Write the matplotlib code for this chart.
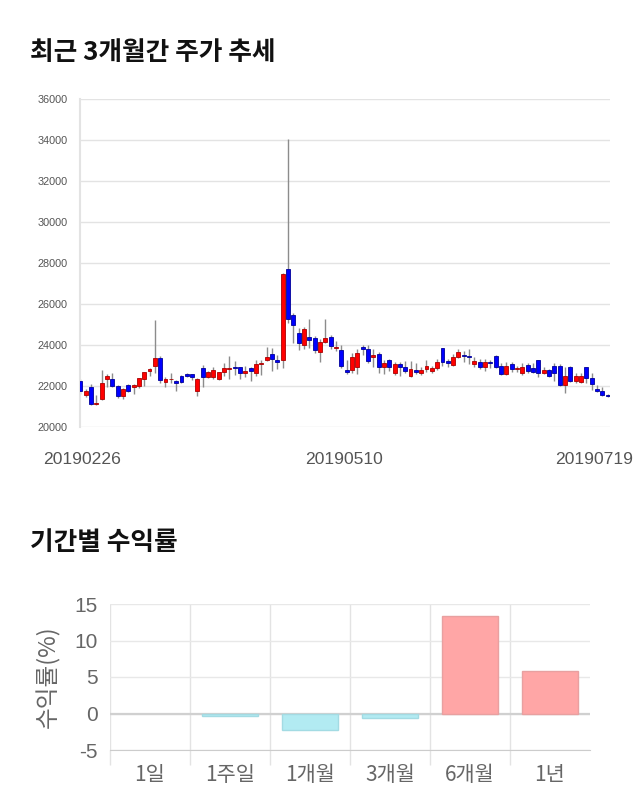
import matplotlib
matplotlib.use("Agg")
import matplotlib.pyplot as plt
import matplotlib.transforms as mtransforms
import numpy as np

plt.rcParams['font.family'] = ['Noto Sans CJK KR', 'DejaVu Sans']

# ---------------- data ----------------
opens = [22250, 21550, 21950, 21100, 21350, 22350, 22340, 22000, 21500, 22060,
         21930, 22010, 22330, 22750, 22960, 23350, 22200, 22330, 22240, 22470,
         22600, 22580, 21760, 22860, 22450, 22450, 22350, 22700, 22840, 22910,
         22930, 22650, 22860, 22650, 23060, 23270, 23560, 23270, 23270, 27710,
         25460, 24600, 24000, 24400, 24350, 23670, 24160, 24370, 23860, 23760,
         22780, 22780, 22940, 23900, 23790, 23400, 23580, 22910, 23270, 22650,
         23070, 22910, 22500, 22780, 22620, 22810, 22750, 22860, 23840, 23200,
         23010, 23430, 23500, 23470, 23090, 23170, 22940, 23170, 23460, 22980,
         22570, 23070, 22810, 22650, 23020, 22860, 23270, 22650, 22780, 22980,
         22980, 22050, 22910, 22240, 22200, 22910, 22370, 21850, 21770, 21560]
highs = [22350, 21870, 22100, 21550, 22780, 22600, 22630, 22050, 21900, 22100,
         22100, 22400, 22700, 22900, 25220, 23450, 22450, 22650, 22300, 22550,
         22650, 22600, 22400, 23020, 22750, 22950, 22700, 23100, 23460, 23230,
         22950, 23000, 22950, 23250, 23250, 23920, 23830, 23500, 27500, 34050,
         25560, 24850, 24880, 25250, 24450, 24300, 25270, 24500, 24200, 24000,
         23270, 23620, 23800, 24000, 24000, 23800, 23650, 23250, 23330, 23150,
         23150, 23200, 23200, 23100, 22950, 23250, 23000, 23300, 23840, 23300,
         23550, 23820, 23700, 23800, 23400, 23300, 23300, 23250, 23500, 23100,
         23150, 23150, 23000, 23100, 23100, 23100, 23270, 22950, 22850, 23100,
         23050, 22940, 22980, 22640, 22640, 22910, 22640, 22050, 21970, 21600]
lows = [21600, 21460, 21050, 21050, 21300, 21950, 21950, 21400, 21350, 21700,
        21610, 21900, 21990, 22500, 22630, 22150, 21950, 22150, 21750, 22150,
        22450, 22300, 21500, 21970, 22400, 22350, 22300, 22490, 22360, 22520,
        22330, 22450, 22250, 22500, 22550, 23200, 22750, 22850, 22900, 25070,
        24110, 23760, 23800, 23850, 23600, 23190, 24100, 23800, 23700, 22870,
        22600, 22620, 22590, 23500, 23100, 22950, 22650, 22600, 22750, 22550,
        22500, 22650, 22450, 22600, 22550, 22700, 22650, 22800, 22980, 22950,
        22980, 23380, 23150, 23050, 22950, 22850, 22750, 22900, 22900, 22530,
        22530, 22700, 22700, 22550, 22650, 22650, 22450, 22600, 22450, 22260,
        22000, 21640, 22200, 22150, 22150, 22150, 21800, 21700, 21500, 21450]
closes = [21750, 21750, 21100, 21150, 22130, 22480, 22020, 21520, 21870, 21760,
          22060, 22370, 22660, 22830, 23350, 22310, 22350, 22360, 22160, 22200,
          22500, 22420, 22320, 22450, 22700, 22760, 22670, 22860, 22890, 22880,
          22650, 22730, 22750, 23070, 23120, 23410, 23300, 23190, 27460, 25270,
          24960, 24080, 24800, 24240, 23760, 24160, 24350, 23970, 23910, 22980,
          22690, 23430, 23620, 23800, 23230, 23510, 22910, 23140, 22910, 23070,
          22910, 22750, 22840, 22670, 22790, 22960, 22880, 23160, 23170, 23140,
          23400, 23660, 23440, 23400, 23220, 22940, 23170, 23100, 22940, 22570,
          22980, 22810, 22890, 22930, 22750, 22700, 22650, 22780, 22490, 22650,
          22050, 22490, 22260, 22490, 22490, 22370, 22100, 21740, 21560, 21500]

date_tick_labels = ['20190226', '20190510', '20190719']
date_tick_index = [0, 50, 99]
price_ticks = [20000, 22000, 24000, 26000, 28000, 30000, 32000, 34000, 36000]

period_labels = ['1일', '1주일', '1개월', '3개월', '6개월', '1년']
period_returns = [0.0, -0.3, -2.2, -0.6, 13.4, 5.8]
return_ticks = [-5, 0, 5, 10, 15]

# ---------------- figure ----------------
fig = plt.figure(figsize=(6.4, 8.1), dpi=100)
fig.patch.set_facecolor('white')

fig.text(30 / 640, 1 - 52 / 810, '최근 3개월간 주가 추세', fontsize=18.5, fontweight='bold',
         color='#111111', ha='left', va='center')
fig.text(30 / 640, 1 - 543 / 810, '기간별 수익률', fontsize=18.5, fontweight='bold',
         color='#111111', ha='left', va='center')

# ---------------- candlestick chart ----------------
ax1 = fig.add_axes([80 / 640, 1 - 427 / 810, 530 / 640, 328 / 810])
o = np.array(opens, float)
h = np.array(highs, float)
l = np.array(lows, float)
c = np.array(closes, float)
x = np.arange(len(o))
up = c >= o
face = np.where(up, '#ff0000', '#0000ff')
edge = np.where(up, '#aa0000', '#000099')

ax1.vlines(x, l, h, color='#8c8c8c', linewidth=1.0, zorder=2)
ax1.bar(x, np.abs(c - o), bottom=np.minimum(o, c), width=0.74, color=face,
        edgecolor=edge, linewidth=0.6, zorder=3)

ax1.set_xlim(-0.05, 99.45)
ax1.set_ylim(20000, 36000)
ax1.set_yticks(price_ticks)
ax1.set_yticklabels([str(t) for t in price_ticks])
ax1.tick_params(axis='y', length=0, pad=9, labelsize=7.8, labelcolor='#555555')
ax1.set_xticks(date_tick_index)
ax1.set_xticklabels(date_tick_labels)
ax1.tick_params(axis='x', length=0, pad=18, labelsize=12.6, labelcolor='#555555')
for lab in ax1.get_yticklabels():
    lab.set_fontfamily(['Liberation Sans', 'DejaVu Sans'])
for lab in ax1.get_xticklabels():
    lab.set_fontfamily(['Liberation Sans', 'DejaVu Sans'])
shifts = [2, -3, -13]
for lab, s in zip(ax1.get_xticklabels(), shifts):
    lab.set_transform(lab.get_transform() + mtransforms.ScaledTranslation(s / 100, 0, fig.dpi_scale_trans))
ax1.grid(axis='y', color='#e3e3e3', linewidth=1.0)
ax1.set_axisbelow(True)
for s in ['top', 'right', 'bottom']:
    ax1.spines[s].set_visible(False)
ax1.spines['left'].set_color('#e3e3e3')
ax1.spines['left'].set_linewidth(1.5)

# ---------------- returns bar chart ----------------
ax2 = fig.add_axes([110 / 640, 1 - 750 / 810, 480 / 640, 146 / 810])
xp = np.arange(len(period_labels))
vals = np.array(period_returns)
bar_face = np.where(vals >= 0, '#ffa6a6', '#b2ebf2')
bar_edge = np.where(vals >= 0, '#e8a0a0', '#a3dbe3')
bar_lw = np.where(vals == 0, 0.0, 1.0)
ax2.bar(xp, vals, width=0.7, color=bar_face, edgecolor=bar_edge, linewidth=bar_lw, zorder=3)
ax2.set_xlim(-0.5, len(period_labels) - 0.5)
ax2.set_ylim(-5, 15)
ax2.set_yticks(return_ticks)
ax2.set_yticklabels([str(t) for t in return_ticks])
ax2.set_xticks(xp)
ax2.set_xticklabels(period_labels)
ax2.set_xticks(np.arange(len(period_labels)) - 0.5, minor=True)
ax2.tick_params(axis='x', which='major', length=0, pad=10, labelsize=15, labelcolor='#666666')
ax2.tick_params(axis='x', which='minor', length=11, width=1.0, color='#e3e3e3', direction='out')
ax2.tick_params(axis='y', length=0, pad=9, labelsize=15, labelcolor='#666666')
for lab in ax2.get_yticklabels():
    lab.set_fontfamily(['Liberation Sans', 'DejaVu Sans'])
ax2.grid(axis='y', color='#e8e8e8', linewidth=1.0)
ax2.grid(axis='x', which='minor', color='#e3e3e3', linewidth=1.0)
ax2.axhline(0, color='#d0d0d0', linewidth=1.6, zorder=2)
ax2.set_axisbelow(True)
for s in ['top', 'right', 'left']:
    ax2.spines[s].set_visible(False)
ax2.spines['bottom'].set_color('#cccccc')
ax2.set_ylabel('수익률(%)', fontsize=17, color='#666666', labelpad=10)

fig.savefig('out.png', dpi=100, facecolor='white')
